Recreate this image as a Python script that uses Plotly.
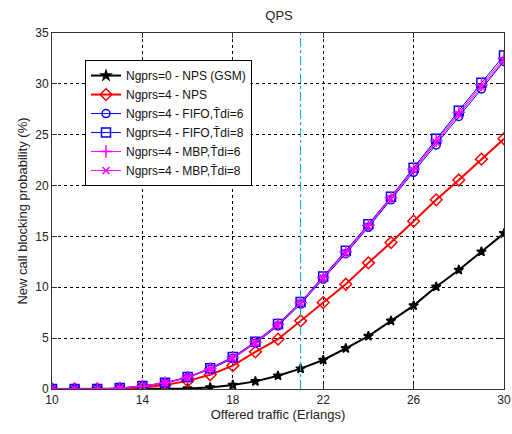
import plotly.graph_objects as go

traffic = list(range(10, 31))

gsm_nps = [0, 0, 0, 0, 0, 0.02, 0.05, 0.15, 0.4, 0.75, 1.3, 2.0, 2.85, 4.0, 5.2,
           6.7, 8.2, 10.05, 11.7, 13.5, 15.3]
gprs_nps = [0, 0, 0, 0.03, 0.15, 0.4, 0.8, 1.4, 2.3, 3.65, 4.9, 6.7, 8.5, 10.3,
            12.4, 14.4, 16.5, 18.6, 20.55, 22.6, 24.6]
fifo_6 = [0, 0, 0, 0.08, 0.28, 0.58, 1.1, 1.95, 3.0, 4.5, 6.2, 8.35, 10.8, 13.3,
          15.9, 18.6, 21.3, 24.0, 26.8, 29.5, 32.2]
fifo_8 = [0, 0, 0, 0.1, 0.3, 0.62, 1.18, 2.05, 3.15, 4.65, 6.4, 8.55, 11.05, 13.6,
          16.2, 18.9, 21.75, 24.6, 27.35, 30.1, 32.8]
mbp_6 = [0, 0, 0, 0.09, 0.3, 0.6, 1.15, 2.0, 3.1, 4.6, 6.35, 8.5, 10.95, 13.5,
         16.1, 18.8, 21.6, 24.4, 27.2, 29.9, 32.5]
mbp_8 = [0, 0, 0, 0.09, 0.29, 0.6, 1.13, 1.98, 3.05, 4.55, 6.3, 8.45, 10.9, 13.4,
         16.0, 18.7, 21.5, 24.25, 27.0, 29.7, 32.3]

names = [
    "Ngprs=0 - NPS (GSM)",
    "Ngprs=4 - NPS",
    "Ngprs=4 - FIFO,T\u0304di=6",
    "Ngprs=4 - FIFO,T\u0304di=8",
    "Ngprs=4 - MBP,T\u0304di=6",
    "Ngprs=4 - MBP,T\u0304di=8",
]
series = [gsm_nps, gprs_nps, fifo_6, fifo_8, mbp_6, mbp_8]
colors = ["black", "red", "blue", "blue", "magenta", "magenta"]
symbols = ["star", "diamond-open", "circle-open", "square-open",
           "cross-thin-open", "x-thin-open"]
widths = [2, 2, 1, 1, 1, 1]
msizes = [7, 9, 8, 9, 9, 7]

threshold = 21

FONT = "Liberation Sans, Arial"

fig = go.Figure()
for name, ys, c, s, w, ms in zip(names, series, colors, symbols, widths, msizes):
    fig.add_trace(go.Scatter(
        x=traffic, y=ys, name=name, mode="lines+markers",
        line=dict(color=c, width=w),
        marker=dict(symbol=s, size=ms, color=c, line=dict(color=c, width=1.5)),
    ))

fig.add_shape(type="line", x0=threshold, x1=threshold, y0=0, y1=35,
              xref="x", yref="y",
              line=dict(color="#00aaaa", width=1, dash="dashdot"))

axis_common = dict(
    showline=True, linecolor="#333", linewidth=1, mirror="ticks",
    ticks="inside", ticklen=5, tickcolor="#333",
    showgrid=True, gridcolor="black", griddash="3px,3px", gridwidth=1,
    zeroline=False, automargin=False,
    tickfont=dict(family=FONT, size=12, color="#222"),
    title_font=dict(family=FONT, size=13, color="#222"),
)

fig.update_xaxes(range=[10, 30], tickvals=[10, 14, 18, 22, 26, 30],
                 title_text="Offered traffic (Erlangs)", title_standoff=0,
                 **axis_common)
fig.update_yaxes(range=[0, 35], tickvals=[0, 5, 10, 15, 20, 25, 30, 35],
                 title_text="New call blocking probability (%)", title_standoff=4,
                 **axis_common)

fig.update_layout(
    width=512, height=434,
    margin=dict(l=52, r=8, t=33, b=45),
    paper_bgcolor="white", plot_bgcolor="white",
    title=dict(text="QPS", x=0.545, xanchor="center", y=0.965, yanchor="middle",
               font=dict(family=FONT, size=13, color="#222")),
    showlegend=True,
    legend=dict(x=0.073, y=0.924, xanchor="left", yanchor="top",
                bgcolor="white", bordercolor="black", borderwidth=1,
                font=dict(family=FONT, size=12, color="#111"),
                tracegroupgap=0, itemwidth=30),
)

fig.write_html("out.html")
